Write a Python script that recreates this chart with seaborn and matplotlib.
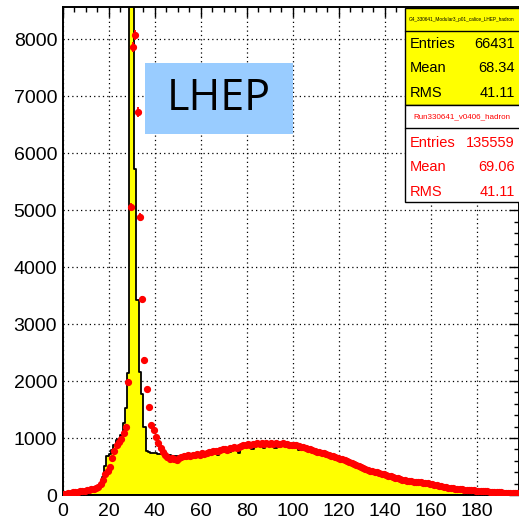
import numpy as np
import pandas as pd
import matplotlib
matplotlib.use("Agg")
import matplotlib.pyplot as plt
import seaborn as sns
from matplotlib.patches import Rectangle
from matplotlib.ticker import MultipleLocator

# ---- data (bin width 1, range 0..198) ----
bin_low = list(range(0, 198))

data_counts = [
    20, 25, 30, 38, 45, 50, 55, 62, 70, 75,
    82, 90, 98, 105, 115, 145, 190, 260, 365, 430,
    500, 650, 770, 880, 935, 990, 1090, 1200, 1990, 5060,
    7870, 8070, 6725, 4880, 3440, 2370, 1860, 1540, 1230, 1140,
    1020, 910, 820, 760, 700, 660, 640, 650, 630, 620,
    650, 670, 690, 680, 700, 690, 710, 700, 720, 710,
    730, 720, 740, 750, 760, 770, 780, 770, 790, 800,
    810, 790, 820, 830, 840, 830, 850, 860, 870, 880,
    890, 880, 900, 890, 910, 900, 920, 890, 910, 900,
    910, 900, 920, 890, 900, 910, 890, 900, 880, 870,
    880, 870, 860, 850, 840, 830, 810, 800, 785, 770,
    760, 750, 740, 730, 720, 705, 690, 680, 665, 650,
    640, 625, 610, 595, 580, 560, 545, 525, 505, 490,
    475, 460, 445, 430, 415, 405, 395, 385, 375, 365,
    350, 340, 325, 315, 300, 290, 280, 270, 260, 250,
    245, 240, 235, 230, 225, 220, 215, 210, 205, 200,
    190, 180, 170, 160, 150, 140, 132, 125, 120, 115,
    110, 105, 100, 97, 94, 90, 87, 84, 80, 78,
    75, 72, 68, 65, 62, 58, 55, 52, 50, 48,
    45, 42, 40, 37, 35, 32, 30, 28,
]

mc_counts = [
    15, 20, 25, 30, 35, 40, 45, 55, 60, 65,
    70, 78, 85, 95, 105, 125, 160, 320, 510, 690,
    720, 790, 880, 965, 985, 1050, 1260, 1520, 2150, 10500,
    10000, 5720, 3420, 2160, 1770, 1200, 780, 750, 740, 735,
    730, 725, 720, 715, 705, 700, 695, 690, 690, 680,
    690, 680, 700, 690, 700, 710, 690, 720, 700, 710,
    720, 710, 730, 740, 720, 750, 760, 700, 770, 780,
    790, 780, 760, 800, 820, 810, 730, 830, 840, 850,
    860, 870, 800, 880, 870, 890, 880, 820, 890, 880,
    870, 880, 820, 890, 880, 870, 930, 860, 880, 840,
    850, 860, 790, 840, 820, 800, 790, 760, 770, 750,
    740, 730, 715, 700, 690, 675, 660, 650, 635, 620,
    610, 600, 580, 570, 555, 540, 520, 505, 490, 470,
    455, 440, 430, 410, 400, 385, 375, 365, 350, 340,
    330, 320, 305, 295, 285, 275, 260, 250, 240, 232,
    225, 218, 212, 205, 198, 190, 185, 178, 170, 162,
    155, 148, 140, 133, 127, 120, 115, 110, 105, 100,
    96, 92, 88, 84, 80, 76, 72, 70, 67, 64,
    60, 58, 55, 52, 50, 47, 45, 43, 40, 38,
    36, 34, 32, 30, 28, 26, 25, 23,
]

x_ticks = [0, 20, 40, 60, 80, 100, 120, 140, 160, 180]
y_ticks = [0, 1000, 2000, 3000, 4000, 5000, 6000, 7000, 8000]

mc_title = "G4_330641_Modular3_p01_calice_LHEP_hadron"
mc_stats = [("Entries", "66431"), ("Mean", "68.34"), ("RMS", "41.11")]
data_title = "Run330641_v0406_hadron"
data_stats = [("Entries", "135559"), ("Mean", "69.06"), ("RMS", "41.11")]
label_text = "LHEP"

# ---- frame ----
edges = [float(e) for e in bin_low] + [float(bin_low[-1] + 1)]
centers = np.array(bin_low, dtype=float) + 0.5
df = pd.DataFrame({"x": centers, "data": np.array(data_counts, dtype=float),
                   "mc": np.array(mc_counts, dtype=float)})

sns.set_theme(style="white")
plt.rcParams["font.family"] = ["Liberation Sans", "DejaVu Sans"]

W, H = 519, 522
fig = plt.figure(figsize=(W / 100, H / 100), dpi=100)
L, R, T, B = 62.7, 518.5, 7.3, 495.0
ax = fig.add_axes([L / W, 1 - B / H, (R - L) / W, (B - T) / H])

sns.histplot(data=df, x="x", weights="mc", bins=edges, element="step",
             fill=True, color="#ffff00", edgecolor="black", linewidth=1.3,
             alpha=1, ax=ax, zorder=2)

ax.errorbar(df["x"], df["data"], xerr=0.5, yerr=np.sqrt(df["data"]),
            fmt="o", color="#ff0000", ms=4.2, elinewidth=1.3, capsize=0,
            zorder=3)

ax.set_xlim(0, 198)
ax.set_ylim(0, 8560)
ax.set_xticks(x_ticks)
ax.set_yticks(y_ticks)
ax.xaxis.set_minor_locator(MultipleLocator(5))
ax.yaxis.set_minor_locator(MultipleLocator(200))
ax.tick_params(which="both", direction="in", top=True, right=True,
               color="black", width=1.0)
ax.tick_params(which="major", length=7.5, labelsize=14, pad=4)
ax.tick_params(which="minor", length=3.8)
ax.tick_params(axis="x", which="major", pad=6)
ax.set_xlabel("")
ax.set_ylabel("")
ax.grid(True, which="major", color="black", linestyle=(0, (1, 2.5)), linewidth=0.9)
ax.set_axisbelow(True)
for s in ax.spines.values():
    s.set_color("black")
    s.set_linewidth(1.4)
for lab in ax.get_xticklabels() + ax.get_yticklabels():
    lab.set_color("black")


def fx(px):
    return px / W


def fy(py):
    return 1 - py / H


# ---- LHEP label box ----
fig.patches.append(Rectangle((fx(145), fy(134)), (293 - 145) / W, (134 - 63) / H,
                             transform=fig.transFigure, facecolor="#99ccff",
                             edgecolor="none", zorder=5))
fig.text(fx(219), fy(99), label_text, fontsize=31, family=["Open Sans", "DejaVu Sans"],
         ha="center", va="center", color="black", zorder=6)

# ---- stats boxes ----
bx0, bx1 = 405, 530
fig.patches.append(Rectangle((fx(bx0), fy(105)), (bx1 - bx0) / W, (105 - 8) / H,
                             transform=fig.transFigure, facecolor="#ffff00",
                             edgecolor="black", linewidth=1.0, zorder=5))
fig.patches.append(Rectangle((fx(bx0), fy(202)), (bx1 - bx0) / W, (202 - 105) / H,
                             transform=fig.transFigure, facecolor="white",
                             edgecolor="black", linewidth=1.0, zorder=5))
fig.lines.append(plt.Line2D([fx(bx0), fx(bx1)], [fy(30.7), fy(30.7)],
                            transform=fig.transFigure, color="black", lw=1.0, zorder=6))
fig.lines.append(plt.Line2D([fx(bx0), fx(bx1)], [fy(128), fy(128)],
                            transform=fig.transFigure, color="black", lw=1.0, zorder=6))

fig.text(fx(462), fy(19), mc_title, fontsize=3.4, ha="center", va="center",
         color="black", zorder=7)
fig.text(fx(462), fy(117), data_title, fontsize=5.8, ha="center", va="center",
         color="#ff0000", zorder=7)

for i, (k, v) in enumerate(mc_stats):
    yy = 44 + 24.3 * i
    fig.text(fx(410), fy(yy), k, fontsize=10.5, ha="left", va="center", color="black", zorder=7)
    fig.text(fx(515), fy(yy), v, fontsize=10.5, ha="right", va="center", color="black", zorder=7)
for i, (k, v) in enumerate(data_stats):
    yy = 143 + 24.3 * i
    fig.text(fx(410), fy(yy), k, fontsize=10.5, ha="left", va="center", color="#ff0000", zorder=7)
    fig.text(fx(515), fy(yy), v, fontsize=10.5, ha="right", va="center", color="#ff0000", zorder=7)

fig.savefig("out.png", dpi=100)
